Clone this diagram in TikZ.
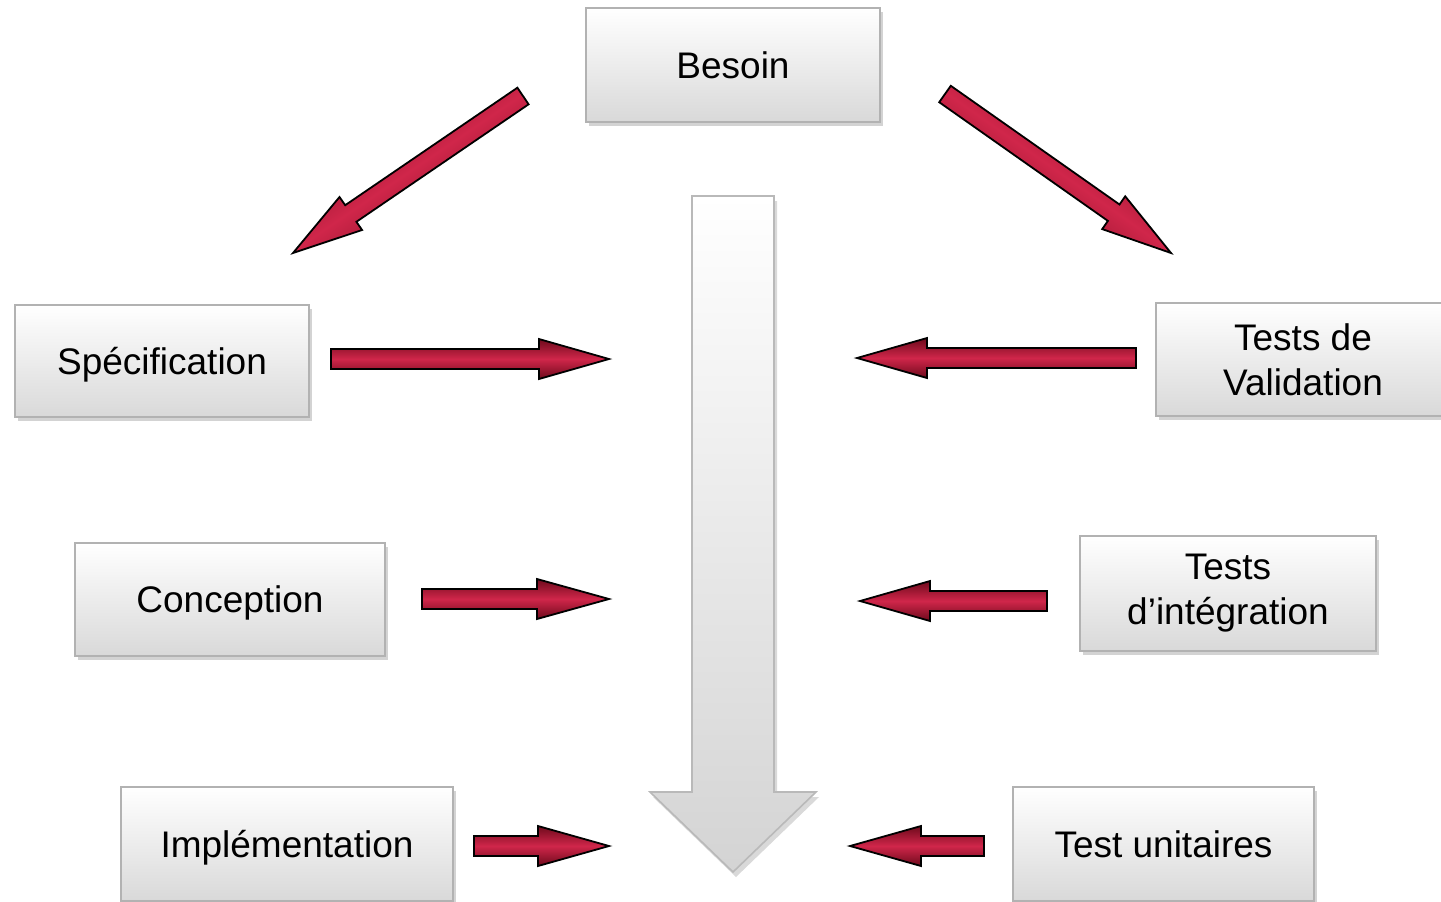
\documentclass[tikz,border=0pt]{standalone}
\usepackage{fontspec}
\setmainfont{Liberation Sans}
\usetikzlibrary{shadows}
\definecolor{crimdark}{HTML}{6E0A1C}
\definecolor{crimmid}{HTML}{D0264A}
\tikzset{
  stagebox/.style={rectangle, draw=gray!60, line width=0.6pt,
    top color=white, bottom color=gray!30,
    drop shadow={shadow xshift=1.5pt, shadow yshift=-2pt, opacity=0.35},
    font=\fontsize{18.5}{22.5}\selectfont, align=center, inner sep=0pt},
  oneline/.style={text height=15pt, text depth=2pt},
  redarrow/.style={draw=black, line width=0.9pt, line join=miter,
    top color=crimdark, bottom color=crimdark, middle color=crimmid},
  flowarrow/.style={draw=gray!55, line width=0.8pt, top color=white, bottom color=gray!34,
    drop shadow={shadow xshift=1.5pt, shadow yshift=-2.5pt, opacity=0.3}}
}
% horizontal block arrow: tail x, tip x, y, head base x
\newcommand\harrow[4]{%
  \path[redarrow] (#1,#3-10) -- (#4,#3-10) -- (#4,#3-20) -- (#2,#3)
    -- (#4,#3+20) -- (#4,#3+10) -- (#1,#3+10) -- cycle;}
\begin{document}
\begin{tikzpicture}[x=0.5pt,y=-0.5pt]
\useasboundingbox (0,0) rectangle (1441,901);

% central downward flow
\path[flowarrow] (692,196) -- (774,196) -- (774,792) -- (816,792) -- (733,872)
  -- (650,792) -- (692,792) -- cycle;

% stages
\node[stagebox, oneline, minimum width=147pt, minimum height=57pt] (besoin) at (733,65) {Besoin};
\node[stagebox, oneline, minimum width=147pt, minimum height=56pt] (spec) at (162,361) {Spécification};
\node[stagebox, oneline, minimum width=155pt, minimum height=56.5pt] (conc) at (230,599.5) {Conception};
\node[stagebox, oneline, minimum width=166pt, minimum height=57pt] (impl) at (287,844) {Implémentation};
\node[stagebox, minimum width=147pt, minimum height=56.5pt] (valid) at (1303,359.5) {Tests de\\Validation};
\node[stagebox, minimum width=148pt, minimum height=57.5pt] (integ) at (1228,593.5) {Tests\\d’intégration};
\node[stagebox, oneline, minimum width=150.5pt, minimum height=57pt] (unit) at (1163.5,844) {Test unitaires};

% diagonal arrows from the need
\path[redarrow, shading angle=34.3] (528.6,104.3) -- (356.4,221.8) -- (362.1,230.0)
  -- (293,253) -- (339.5,197.0) -- (345.2,205.2) -- (517.4,87.7) -- cycle;
\path[redarrow, shading angle=-35.1] (939.2,102.2) -- (1107.9,220.9) -- (1102.2,229.1)
  -- (1171,253) -- (1125.2,196.3) -- (1119.5,204.5) -- (950.8,85.8) -- cycle;

% left side: into the flow
\harrow{331}{609}{359}{539}
\harrow{422}{609}{599}{537}
\harrow{474}{609}{846}{538}

% right side: into the flow
\harrow{1136}{857}{358}{927}
\harrow{1047}{860}{601}{930}
\harrow{984}{850}{846}{921}
\end{tikzpicture}
\end{document}
